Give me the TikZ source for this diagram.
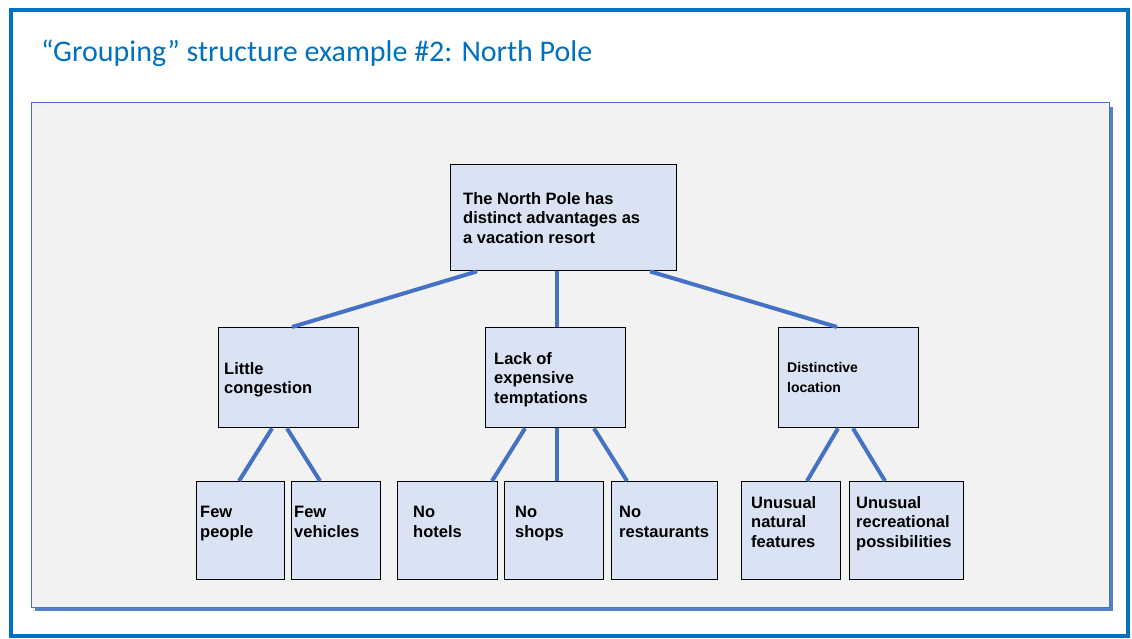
\documentclass[tikz,border=0pt]{standalone}
\usepackage{fontspec}
\setmainfont{Liberation Sans}
\newfontfamily\titlefont{Carlito}
\usepackage{tikz}
\definecolor{titleblue}{HTML}{0070C0}
\definecolor{linkblue}{HTML}{4472C4}
\definecolor{boxfill}{HTML}{DAE3F3}
\definecolor{panelgray}{HTML}{F2F2F2}

\begin{document}
\begin{tikzpicture}[x=1pt,y=-1pt,
  box/.style={draw=black, line width=1.4pt, rectangle, fill=boxfill, anchor=north west, inner sep=0pt},
  lbl/.style={anchor=north west, inner sep=0pt, align=left, font=\bfseries\fontsize{16.5}{19.5}\selectfont},
  link/.style={line width=4pt, linkblue}]
\useasboundingbox (0,0) rectangle (1132,639);
% frame and panel
\draw[titleblue, line width=4pt] (11,10) rectangle (1128,636);
\fill[linkblue!90] (35,107) rectangle (1113,611);
\draw[linkblue, line width=1pt, fill=panelgray] (31,103) rectangle (1109,607);
\node[anchor=base west, inner sep=0pt, text=titleblue, font=\titlefont\fontsize{30}{34}\selectfont] (title) at (41,62) {“Grouping” structure example \#2: North Pole};

% boxes
\node[box, minimum width=226, minimum height=106] (root) at (450,164) {};
\node[box, minimum width=140, minimum height=100] (little) at (218,327) {};
\node[box, minimum width=140, minimum height=100] (lack) at (485,327) {};
\node[box, minimum width=140, minimum height=100] (distinct) at (778,327) {};
\node[box, minimum width=88, minimum height=98] (people) at (196,481) {};
\node[box, minimum width=89, minimum height=98] (vehicles) at (291,481) {};
\node[box, minimum width=100, minimum height=98] (hotels) at (397,481) {};
\node[box, minimum width=99, minimum height=98] (shops) at (504,481) {};
\node[box, minimum width=106, minimum height=98] (restaurants) at (611,481) {};
\node[box, minimum width=99, minimum height=98] (natural) at (741,481) {};
\node[box, minimum width=114, minimum height=98] (recreational) at (849,481) {};

% links
\draw[link] ([xshift=27pt]root.south west) -- ([xshift=74pt]little.north west);
\draw[link] ([xshift=107pt]root.south west) -- ([xshift=72pt]lack.north west);
\draw[link] ([xshift=200pt]root.south west) -- ([xshift=59pt]distinct.north west);
\draw[link] ([xshift=54pt]little.south west) -- ([xshift=43pt]people.north west);
\draw[link] ([xshift=69pt]little.south west) -- ([xshift=29pt]vehicles.north west);
\draw[link] ([xshift=40pt]lack.south west) -- ([xshift=95pt]hotels.north west);
\draw[link] ([xshift=72pt]lack.south west) -- ([xshift=53pt]shops.north west);
\draw[link] ([xshift=109pt]lack.south west) -- ([xshift=16pt]restaurants.north west);
\draw[link] ([xshift=60pt]distinct.south west) -- ([xshift=66pt]natural.north west);
\draw[link] ([xshift=75pt]distinct.south west) -- ([xshift=36pt]recreational.north west);

% texts
\node[lbl] (roottext) at (463,192) {The North Pole has\\distinct advantages as\\a vacation resort};
\node[lbl] (littletext) at (224,362) {Little\\congestion};
\node[lbl] (lacktext) at (494,352) {Lack of\\expensive\\temptations};
\node[lbl, font=\bfseries\fontsize{14}{20}\selectfont] (distincttext) at (787,362) {Distinctive\\location};
\node[lbl] (peopletext) at (200,506) {Few\\people};
\node[lbl] (vehiclestext) at (294,506) {Few\\vehicles};
\node[lbl] (hotelstext) at (413,506) {No\\hotels};
\node[lbl] (shopstext) at (515,506) {No\\shops};
\node[lbl] (restaurantstext) at (619,506) {No\\restaurants};
\node[lbl] (naturaltext) at (751,496) {Unusual\\natural\\features};
\node[lbl] (recreationaltext) at (856,496) {Unusual\\recreational\\possibilities};
\end{tikzpicture}
\end{document}
